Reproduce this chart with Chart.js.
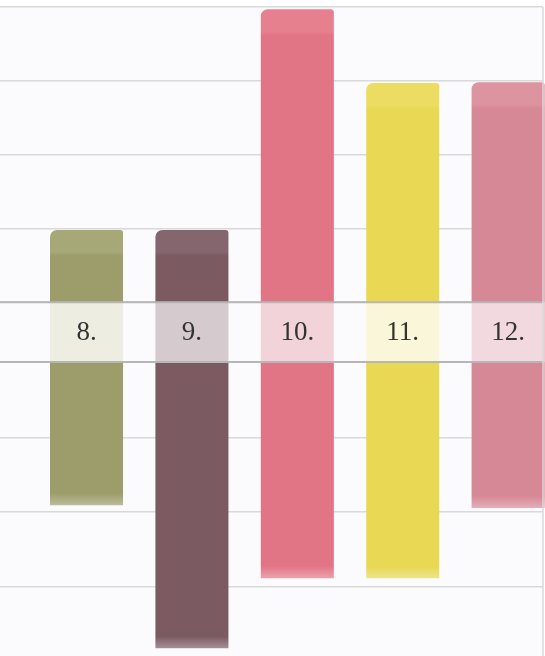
<!DOCTYPE html>
<html>
<head>
<meta charset="utf-8">
<script src="https://cdn.jsdelivr.net/npm/chart.js@4/dist/chart.umd.min.js"></script>
<style>
  html, body { margin: 0; padding: 0; background: #ffffff; overflow: hidden; }
  #wrap { width: 545px; height: 656px; }
</style>
</head>
<body>
<div id="wrap"><canvas id="chartTage" width="545" height="656"></canvas></div>
<script>
// days shown in the band
var tage = [8, 9, 10, 11, 12];
var tagLabels = ['8.', '9.', '10.', '11.', '12.'];
// start / end of each bar (axis runs top -> bottom)
var startWerte = [3.02, 3.02, 0.03, 1.03, 1.02];
var endWerte = [6.75, 8.69, 7.74, 7.74, 6.79];
// grid lines and the label band
var gridWerte = [0, 1, 2, 3, 4, 4.81, 5.84, 6.84, 7.85];
var band = [4, 4.81];

var farben = ['#9c9d6b', '#7b5a62', '#e27585', '#e8d853', '#d78896'];
var kopfFarben = ['#a6a877', '#86666e', '#e6808f', '#ecdd62', '#dc94a1'];
var hellFarben = ['#edede1', '#d5cbcf', '#f3d3da', '#faf6d9', '#f2d9df'];

// lighter head, fading tail - a bit like a brush stroke
function pinsel(ctx) {
    var chart = ctx.chart;
    var i = ctx.dataIndex;
    if (!chart.chartArea || i === undefined) return farben[i || 0];
    var y = chart.scales.y;
    var top = y.getPixelForValue(startWerte[i]);
    var bot = y.getPixelForValue(endWerte[i]);
    var h = bot - top;
    var g = chart.ctx.createLinearGradient(0, top, 0, bot);
    g.addColorStop(0, kopfFarben[i]);
    g.addColorStop(22 / h, kopfFarben[i]);
    g.addColorStop(26 / h, farben[i]);
    g.addColorStop(1 - 12 / h, farben[i]);
    g.addColorStop(1, farben[i] + 'aa');
    return g;
}

var bandPlugin = {
    id: 'bandPlugin',
    beforeDraw: function(chart) {
        var c = chart.ctx, a = chart.chartArea;
        c.save();
        c.fillStyle = '#fbfbfd';
        c.fillRect(a.left, a.top, a.right - a.left, a.bottom - a.top);
        c.restore();
    },
    afterDatasetsDraw: function(chart) {
        var c = chart.ctx, a = chart.chartArea;
        var y = chart.scales.y, x = chart.scales.x;
        var y1 = y.getPixelForValue(band[0]);
        var y2 = y.getPixelForValue(band[1]);
        var meta = chart.getDatasetMeta(0);
        c.save();
        c.fillStyle = '#fbfbfd';
        c.fillRect(a.left, y1, a.right - a.left, y2 - y1);
        for (var i = 0; i < tage.length; i++) {
            var bar = meta.data[i];
            var w = bar.width;
            c.fillStyle = hellFarben[i];
            c.fillRect(bar.x - w / 2, y1, w, y2 - y1);
        }
        c.strokeStyle = '#b6b6b6';
        c.lineWidth = 2;
        c.beginPath();
        c.moveTo(a.left, y1); c.lineTo(a.right, y1);
        c.moveTo(a.left, y2); c.lineTo(a.right, y2);
        c.stroke();
        c.strokeStyle = '#d9d9d9';
        c.lineWidth = 1.5;
        c.beginPath();
        c.moveTo(a.right, a.top); c.lineTo(a.right, a.bottom);
        c.stroke();
        c.fillStyle = '#333333';
        c.font = '27px "Liberation Serif", "DejaVu Serif", serif';
        c.textAlign = 'center';
        c.textBaseline = 'middle';
        for (var j = 0; j < tage.length; j++) {
            c.fillText(tagLabels[j], x.getPixelForValue(tage[j]), (y1 + y2) / 2 + 1);
        }
        c.restore();
    }
};

var daten = tage.map(function(t, i) { return { x: t, y: [startWerte[i], endWerte[i]] }; });

window.myChart = new Chart(document.getElementById('chartTage'), {
    type: 'bar',
    data: {
        datasets: [{
            data: daten,
            backgroundColor: pinsel,
            borderWidth: 0,
            borderSkipped: false,
            borderRadius: { topLeft: 7, topRight: 3, bottomLeft: 0, bottomRight: 0 },
            barPercentage: 0.693,
            categoryPercentage: 1,
            clip: false
        }]
    },
    options: {
        responsive: false,
        animation: false,
        layout: { padding: { top: 7, right: 2, left: 0, bottom: 0 } },
        plugins: { legend: { display: false }, tooltip: { enabled: false } },
        scales: {
            x: {
                type: 'linear',
                offset: false,
                min: 7.179,
                max: 12.331,
                afterBuildTicks: function(scale) {
                    scale.ticks = tage.map(function(v) { return { value: v }; });
                },
                display: false
            },
            y: {
                reverse: true,
                min: 0,
                max: 8.794,
                afterBuildTicks: function(scale) {
                    scale.ticks = gridWerte.map(function(v) { return { value: v }; });
                },
                border: { display: false },
                grid: { color: '#d9d9d9', lineWidth: 1.5, drawTicks: false },
                ticks: { display: false }
            }
        }
    },
    plugins: [bandPlugin]
});
</script>
</body>
</html>
